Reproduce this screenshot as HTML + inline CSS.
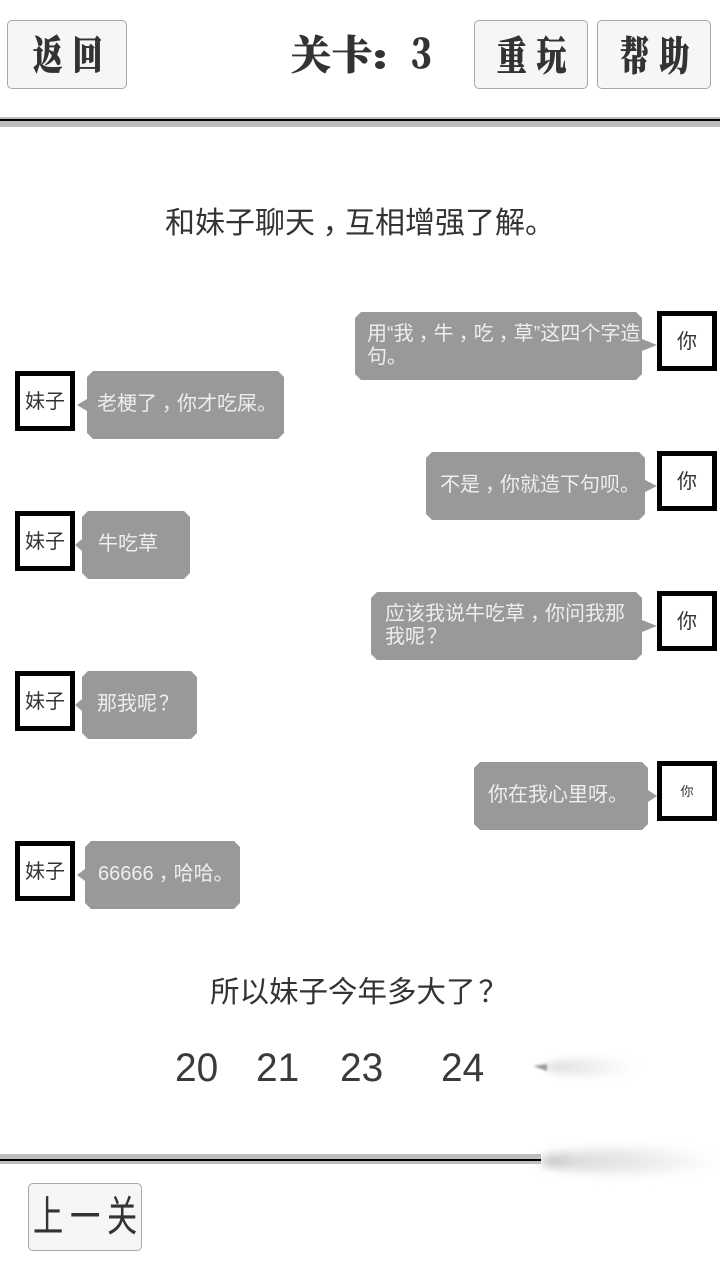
<!DOCTYPE html>
<html lang="zh"><head><meta charset="utf-8"><style>
html,body{margin:0;padding:0;background:#fff}
#p{position:relative;width:720px;height:1280px;overflow:hidden;background:#fff;font-family:"Liberation Sans","WenQuanYi Zen Hei","Noto Sans CJK SC",sans-serif;color:#333}
#p div{position:absolute;box-sizing:border-box;white-space:nowrap}
.btn{background:#f6f6f6;border:1px solid #a8a8a8;border-radius:5px}
.h{font-family:"Noto Serif CJK SC",serif;font-weight:900;font-size:40px;line-height:44px;color:#333;transform-origin:0 50%;-webkit-text-stroke:.7px #333}
.av{width:60px;height:60px;border:5px solid #000;background:#fff;font-size:20px;line-height:52px;text-align:center;color:#333}
.b{background:#999;clip-path:polygon(6px 0,calc(100% - 6px) 0,100% 6px,100% calc(100% - 6px),calc(100% - 6px) 100%,6px 100%,0 calc(100% - 6px),0 6px)}
.t{font-size:20px;line-height:23px;color:#eee}
.tr{width:0;height:0;border-top:6px solid transparent;border-bottom:6px solid transparent}
.r{border-left:15px solid #999}
.l{border-right:10px solid #999}
.n{top:1045px;font-size:40px;line-height:46px;color:#3a3a3a;transform:scaleX(.97);transform-origin:0 50%}
.c{position:relative;left:.25em}
.q{position:relative;left:.1em}
</style></head><body><div id="p">
<div class="btn" style="left:7px;top:20px;width:120px;height:69px"></div>
<div class="btn" style="left:474px;top:20px;width:114px;height:69px"></div>
<div class="btn" style="left:597px;top:20px;width:114px;height:69px"></div>
<div class="h" style="left:33px;top:31px;letter-spacing:13.5px;transform:scaleX(.74)">返回</div>
<div class="h" style="left:497px;top:32px;letter-spacing:13.5px;transform:scaleX(.74)">重玩</div>
<div class="h" style="left:620px;top:32px;letter-spacing:13.5px;transform:scaleX(.74)">帮助</div>
<div class="h" style="left:291px;top:31px;letter-spacing:1px">关卡</div>
<div style="left:375px;top:50px;width:10px;height:8px;border-radius:50%;background:#333"></div>
<div style="left:375px;top:61px;width:10px;height:8px;border-radius:50%;background:#333"></div>
<div class="h" style="left:411px;top:30px;transform:scaleX(.85)">3</div>
<div style="left:0;top:117px;width:720px;height:10px;background:#bdbdbd"></div>
<div style="left:0;top:119px;width:720px;height:2px;background:#000"></div>
<div style="left:165px;top:207px;font-size:30px;line-height:34px;color:#333">和妹子聊天<span class="c">，</span>互相增强了解。</div>

<div class="b" style="left:355px;top:312px;width:287px;height:68px"></div>
<div class="tr r" style="left:642px;top:339px"></div>
<div class="t" style="left:367px;top:323px">用“我<span class="c">，</span>牛<span class="c">，</span>吃<span class="c">，</span>草”这四个字造</div>
<div class="t" style="left:367px;top:346px">句。</div>
<div class="av" style="left:657px;top:311px">你</div>

<div class="av" style="left:15px;top:371px">妹子</div>
<div class="tr l" style="left:77px;top:399px"></div>
<div class="b" style="left:87px;top:371px;width:197px;height:68px"></div>
<div class="t" style="left:97px;top:393px">老梗了<span class="c">，</span>你才吃屎。</div>

<div class="b" style="left:426px;top:452px;width:219px;height:68px"></div>
<div class="tr r" style="left:645px;top:480px;border-left-width:12px"></div>
<div class="t" style="left:440px;top:474px">不是<span class="c">，</span>你就造下句呗。</div>
<div class="av" style="left:657px;top:451px">你</div>

<div class="av" style="left:15px;top:511px">妹子</div>
<div class="tr l" style="left:75px;top:539px;border-right-width:7px"></div>
<div class="b" style="left:82px;top:511px;width:108px;height:68px"></div>
<div class="t" style="left:98px;top:533px">牛吃草</div>

<div class="b" style="left:371px;top:592px;width:271px;height:68px"></div>
<div class="tr r" style="left:642px;top:620px"></div>
<div class="t" style="left:385px;top:603px">应该我说牛吃草<span class="c">，</span>你问我那</div>
<div class="t" style="left:385px;top:626px">我呢<span class="q">？</span></div>
<div class="av" style="left:657px;top:591px">你</div>

<div class="av" style="left:15px;top:671px">妹子</div>
<div class="tr l" style="left:75px;top:699px;border-right-width:7px"></div>
<div class="b" style="left:82px;top:671px;width:115px;height:68px"></div>
<div class="t" style="left:97px;top:693px">那我呢<span class="q">？</span></div>

<div class="b" style="left:474px;top:762px;width:174px;height:68px"></div>
<div class="tr r" style="left:648px;top:790px;border-left-width:9px"></div>
<div class="t" style="left:488px;top:784px">你在我心里呀。</div>
<div class="av" style="left:657px;top:761px;font-size:13px">你</div>

<div class="av" style="left:15px;top:841px">妹子</div>
<div class="tr l" style="left:77px;top:869px;border-right-width:8px"></div>
<div class="b" style="left:85px;top:841px;width:155px;height:68px"></div>
<div class="t" style="left:98px;top:863px">66666<span class="c">，</span>哈哈。</div>

<div style="left:210px;top:976px;font-size:29.5px;line-height:34px;color:#333">所以妹子今年多大了<span class="q">？</span></div>
<div class="n" style="left:175px">20</div>
<div class="n" style="left:256px">21</div>
<div class="n" style="left:340px">23</div>
<div class="n" style="left:441px">24</div>

<div style="left:545px;top:1058px;width:95px;height:18px;background:linear-gradient(90deg,#ddd 0%,#ececec 40%,#f8f8f8 75%,#fff 100%);filter:blur(4px);border-radius:50%"></div>
<div style="left:533px;top:1064px;width:0;height:0;border-top:2px solid transparent;border-left:0 solid transparent;border-right:14px solid #999;border-bottom:5px solid transparent;filter:blur(1px)"></div>

<div style="left:540px;top:1149px;width:180px;height:24px;background:linear-gradient(90deg,#b5b5b5 0%,#ddd 20%,#ececec 60%,#fff 100%);filter:blur(5px);border-radius:50%"></div>
<div style="left:0;top:1154px;width:541px;height:10px;background:#bdbdbd"></div>
<div style="left:0;top:1159px;width:541px;height:2px;background:#000"></div>

<div class="btn" style="left:28px;top:1183px;width:114px;height:68px"></div>
<div style="left:33px;top:1194px;font-size:42px;line-height:46px;letter-spacing:9.4px;color:#333;transform:scaleX(.72);transform-origin:0 50%">上一关</div>
</div></body></html>
